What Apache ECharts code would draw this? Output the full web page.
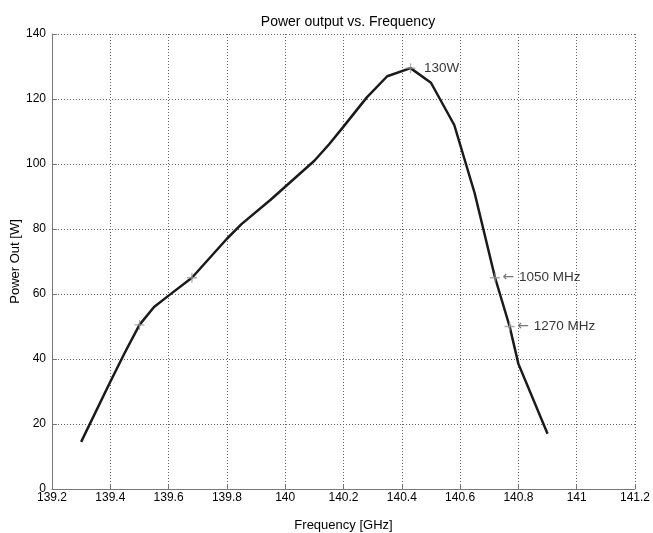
<!DOCTYPE html>
<html>
<head>
<meta charset="utf-8">
<script src="https://cdn.jsdelivr.net/npm/echarts@6/dist/echarts.min.js"></script>
<style>html,body{margin:0;padding:0;background:#fff}#c{width:653px;height:533px}</style>
</head>
<body>
<div id="c"></div>
<script>
const freq = [139.3, 139.4, 139.45, 139.5, 139.55, 139.6, 139.68, 139.75, 139.8, 139.85, 139.95, 140.0, 140.1, 140.15, 140.2, 140.28, 140.35, 140.43, 140.5, 140.58, 140.65, 140.72, 140.77, 140.8, 140.9];
const power = [14.5, 33, 42, 50.5, 56, 59.5, 65, 72, 77, 81.5, 89, 93, 101, 106, 111.5, 120.5, 127, 129.5, 125, 112, 91, 65, 50, 38.5, 17];
const markFreq = [139.5, 139.68, 140.43, 140.72, 140.77];
const markPower = [50.5, 65, 129.5, 65, 50];
const markText = ['', '', '130W', '{a|\u2190} 1050 MHz', '{a|\u2190} 1270 MHz'];
const markGap = [0, 0, 6, 0, 0];
const xTicks = {min: 139.2, max: 141.2, interval: 0.2};
const yTicks = {min: 0, max: 140, interval: 20};

const chart = echarts.init(document.getElementById('c'));
const font = 'Liberation Sans, Arial, sans-serif';
chart.setOption({
  animation: false,
  title: {
    text: 'Power output vs. Frequency', left: 343, top: 10, textAlign: 'center',
    textStyle: {fontFamily: font, fontSize: 14, fontWeight: 'normal', color: '#000'}
  },
  grid: {left: 52, right: 18, top: 34, bottom: 44, containLabel: false, outerBoundsMode: 'none'},
  xAxis: {
    type: 'value', min: xTicks.min, max: xTicks.max, interval: xTicks.interval,
    name: 'Frequency [GHz]', nameLocation: 'middle', nameGap: 30, nameMoveOverlap: false,
    nameTextStyle: {fontFamily: font, fontSize: 13, color: '#000'},
    axisLine: {show: true, lineStyle: {color: '#777', width: 1}},
    axisTick: {show: true, inside: true, length: 5, lineStyle: {color: '#777'}},
    axisLabel: {fontFamily: font, fontSize: 12, color: '#000', margin: 3,
      formatter: v => String(parseFloat(v.toFixed(1)))},
    splitLine: {show: true, lineStyle: {color: '#666', type: [1, 2], width: 1}}
  },
  yAxis: {
    type: 'value', min: yTicks.min, max: yTicks.max, interval: yTicks.interval,
    name: 'Power Out [W]', nameLocation: 'middle', nameGap: 30, nameMoveOverlap: false,
    nameTextStyle: {fontFamily: font, fontSize: 13, color: '#000'},
    axisLine: {show: true, lineStyle: {color: '#777', width: 1}},
    axisTick: {show: true, inside: true, length: 5, lineStyle: {color: '#777'}},
    axisLabel: {fontFamily: font, fontSize: 12, color: '#000', margin: 6},
    splitLine: {show: true, lineStyle: {color: '#666', type: [1, 2], width: 1}}
  },
  series: [
    {
      type: 'line', data: freq.map((f, i) => [f, power[i]]),
      showSymbol: false, symbol: 'none',
      lineStyle: {color: '#1a1a1a', width: 2.5}, z: 2
    },
    {
      type: 'scatter',
      data: markFreq.map((f, i) => ({value: [f, markPower[i]], label: {formatter: markText[i], distance: markGap[i]}})),
      symbol: 'path://M5,0L5,10M0,5L10,5', symbolSize: 10,
      itemStyle: {color: 'none', borderColor: '#999', borderWidth: 1.3},
      label: {show: true, position: 'right', distance: 0, fontFamily: font, fontSize: 13.5, color: '#000',
        rich: {a: {fontFamily: 'DejaVu Sans', fontSize: 14, color: '#555', padding: [0, 1, 0, 0]}}},
      z: 3
    }
  ]
});
</script>
</body>
</html>
